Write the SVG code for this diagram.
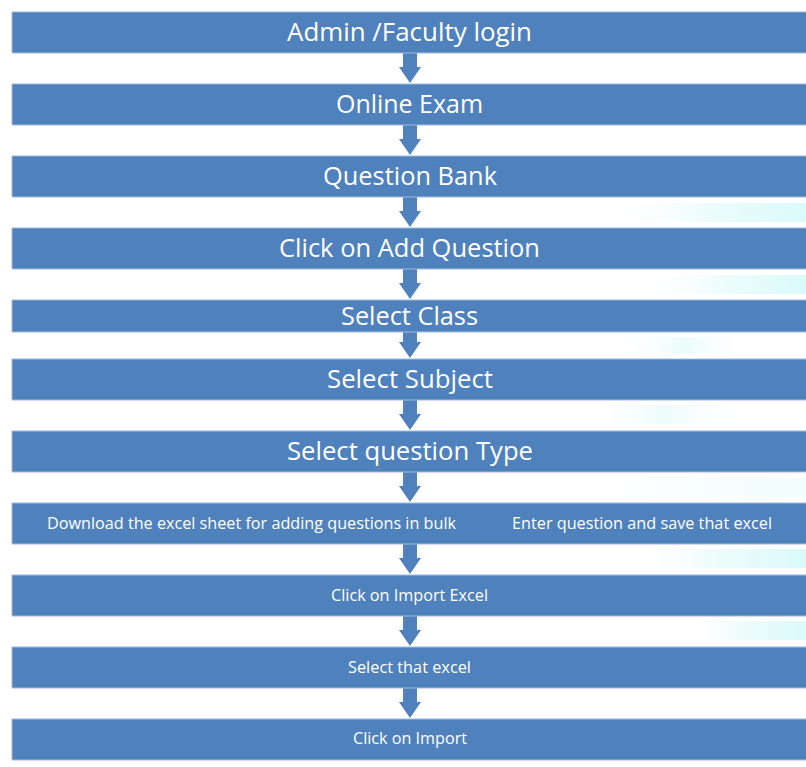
<svg xmlns="http://www.w3.org/2000/svg" width="806" height="767" viewBox="0 0 806 767">
<style>
.bar{fill:#4F81BD;stroke:#A3BCDF;stroke-width:1}
.t{font-family:"Open Sans","Liberation Sans",sans-serif;fill:#ffffff;text-anchor:middle}
.big{font-size:25px}
.sm{font-size:16px}
.arr{fill:#4F81BD}
</style>
<defs>
<linearGradient id="glow" x1="0" y1="0" x2="1" y2="0">
<stop offset="0" stop-color="#e6fbfb" stop-opacity="0"/>
<stop offset="0.5" stop-color="#dcfaf8" stop-opacity="0.6"/>
<stop offset="1" stop-color="#d6fafa" stop-opacity="0.9"/>
</linearGradient>
<linearGradient id="glow2" x1="0" y1="0" x2="1" y2="0">
<stop offset="0" stop-color="#e6fbfb" stop-opacity="0"/>
<stop offset="0.5" stop-color="#dcfaf8" stop-opacity="0.8"/>
<stop offset="1" stop-color="#e6fbfb" stop-opacity="0"/>
</linearGradient>
</defs>
<rect width="806" height="767" fill="#ffffff"/>
<g id="glows">
<rect x="630" y="203" width="176" height="19" fill="url(#glow)"/>
<rect x="660" y="275" width="146" height="19" fill="url(#glow)"/>
<rect x="630" y="337" width="110" height="16" fill="url(#glow2)" opacity="0.7"/>
<rect x="600" y="405" width="130" height="19" fill="url(#glow2)" opacity="0.6"/>
<rect x="620" y="478" width="186" height="19" fill="url(#glow)" opacity="0.4"/>
<rect x="650" y="549" width="156" height="19" fill="url(#glow)"/>
<rect x="700" y="621" width="106" height="19" fill="url(#glow)"/>
</g>
<g id="connectors">
<path class="arr" d="M403 53H417V67H421L410 83L399 67H403Z"/>
<path class="arr" d="M403 125H417V139H421L410 155L399 139H403Z"/>
<path class="arr" d="M403 197H417V211H421L410 227L399 211H403Z"/>
<path class="arr" d="M403 269H417V283H421L410 299L399 283H403Z"/>
<path class="arr" d="M403 332H417V342H421L410 358L399 342H403Z"/>
<path class="arr" d="M403 400H417V414H421L410 430L399 414H403Z"/>
<path class="arr" d="M403 472H417V486H421L410 502L399 486H403Z"/>
<path class="arr" d="M403 544H417V558H421L410 574L399 558H403Z"/>
<path class="arr" d="M403 616H417V630H421L410 646L399 630H403Z"/>
<path class="arr" d="M403 688H417V702H421L410 718L399 702H403Z"/>
</g>
<g id="n1"><rect class="bar" x="12" y="12" width="800" height="41"/><text class="t big" x="409.5" y="41" textLength="245" lengthAdjust="spacingAndGlyphs">Admin /Faculty login</text></g>
<g id="n2"><rect class="bar" x="12" y="84" width="800" height="41"/><text class="t big" x="409.5" y="113" textLength="147" lengthAdjust="spacingAndGlyphs">Online Exam</text></g>
<g id="n3"><rect class="bar" x="12" y="156" width="800" height="41"/><text class="t big" x="410" y="185" textLength="174" lengthAdjust="spacingAndGlyphs">Question Bank</text></g>
<g id="n4"><rect class="bar" x="12" y="228" width="800" height="41"/><text class="t big" x="409.5" y="257" textLength="261" lengthAdjust="spacingAndGlyphs">Click on Add Question</text></g>
<g id="n5"><rect class="bar" x="12" y="300" width="800" height="32"/><text class="t big" x="409.5" y="325" textLength="137" lengthAdjust="spacingAndGlyphs">Select Class</text></g>
<g id="n6"><rect class="bar" x="12" y="359" width="800" height="41"/><text class="t big" x="410" y="388" textLength="166" lengthAdjust="spacingAndGlyphs">Select Subject</text></g>
<g id="n7"><rect class="bar" x="12" y="431" width="800" height="41"/><text class="t big" x="410" y="460" textLength="246" lengthAdjust="spacingAndGlyphs">Select question Type</text></g>
<g id="n8"><rect class="bar" x="12" y="503" width="800" height="41"/><text class="t sm" x="251.5" y="528.5" textLength="409" lengthAdjust="spacingAndGlyphs">Download the excel sheet for adding questions in bulk</text><text class="t sm" x="642" y="528.5" textLength="260" lengthAdjust="spacingAndGlyphs">Enter question and save that excel</text></g>
<g id="n9"><rect class="bar" x="12" y="575" width="800" height="41"/><text class="t sm" x="409.5" y="601" textLength="157" lengthAdjust="spacingAndGlyphs">Click on Import Excel</text></g>
<g id="n10"><rect class="bar" x="12" y="647" width="800" height="41"/><text class="t sm" x="409.5" y="673" textLength="123" lengthAdjust="spacingAndGlyphs">Select that excel</text></g>
<g id="n11"><rect class="bar" x="12" y="719" width="800" height="41"/><text class="t sm" x="410" y="744" textLength="114" lengthAdjust="spacingAndGlyphs">Click on Import</text></g>
</svg>
